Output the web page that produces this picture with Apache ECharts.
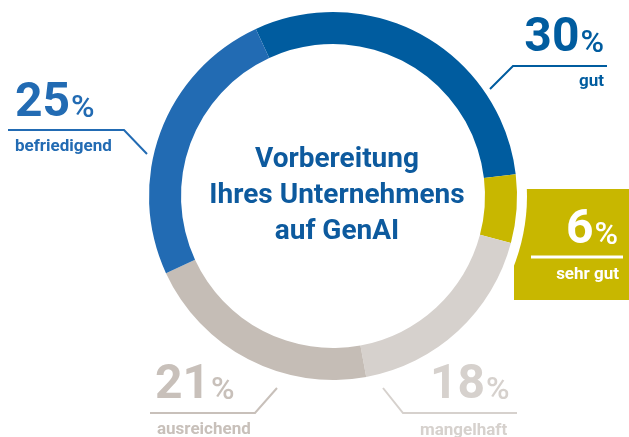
<!DOCTYPE html>
<html>
<head>
<meta charset="utf-8">
<script src="https://cdn.jsdelivr.net/npm/echarts@6/dist/echarts.min.js"></script>
<style>
  html, body { margin: 0; padding: 0; background: #fff; }
  #chart { width: 629px; height: 437px; }
</style>
</head>
<body>
<div id="chart"></div>
<script>
// data
const categories = ['gut', 'sehr gut', 'mangelhaft', 'ausreichend', 'befriedigend'];
const shares = [30, 6, 18, 21, 25];
const sliceColors = ['#005c9f', '#c8b700', '#d6d1cd', '#c5bdb6', '#226bb3'];
const textColors = ['#005c9f', '#ffffff', '#d6d1cd', '#c8c0ba', '#226bb3'];
const titleLines = ['Vorbereitung', 'Ihres Unternehmens', 'auf GenAI'];

const FONT = 'Roboto, "Open Sans", sans-serif';
const cx = 333, cy = 196;

// where each callout sits around the ring
const callouts = [
    { align: 'right', x: 604, base: 55, subX: 604, subBase: 88, line: [[490, 89], [513, 66], [607, 66]] },
    { align: 'right', x: 618, base: 247, subX: 619, subBase: 281, line: [[531, 257], [623, 257]] },
    { align: 'left', x: 430, base: 402, subX: 420, subBase: 437, line: [[383, 388], [403, 413], [517, 413]] },
    { align: 'left', x: 155, base: 402, subX: 157, subBase: 436, line: [[277, 388], [255, 413], [150, 413]] },
    { align: 'left', x: 15, base: 120, subX: 15, subBase: 153, line: [[8, 130], [124, 130], [147, 154]] }
];

const ctx = document.createElement('canvas').getContext('2d');
function textWidth(str, font) {
    ctx.font = font;
    return ctx.measureText(str).width;
}

// text placed by its baseline
function txt(x, base, str, size, weight, color, align) {
    return {
        type: 'text',
        z: 10,
        silent: true,
        style: {
            x: x,
            y: base - 0.34 * size,
            text: str,
            font: weight + ' ' + size + 'px ' + FONT,
            fill: color,
            align: align,
            verticalAlign: 'middle'
        }
    };
}

const graphics = [
    // olive box behind "sehr gut", cut by a white ring
    { type: 'rect', z: 0, silent: true, shape: { x: 514, y: 189, width: 115, height: 111 }, style: { fill: sliceColors[1] } },
    { type: 'circle', z: 1, silent: true, shape: { cx: cx, cy: cy, r: 194 }, style: { fill: '#fff' } },
    {
        type: 'text', z: 10, silent: true,
        style: {
            x: 337, y: 195.5,
            text: titleLines.join('\n'),
            font: 'bold 28px ' + FONT,
            lineHeight: 36,
            fill: '#0d5a9e',
            align: 'center',
            verticalAlign: 'middle'
        }
    }
];

const numSize = 48, pctSize = 32, subSize = 17;
categories.forEach((name, i) => {
    const c = callouts[i];
    const color = textColors[i];
    const numStr = String(shares[i]);
    const numFont = 'bold ' + numSize + 'px ' + FONT;
    const pctFont = '500 ' + pctSize + 'px ' + FONT;
    const numW = textWidth(numStr, numFont);
    const pctW = textWidth('%', pctFont);
    if (c.align === 'right') {
        graphics.push(txt(c.x, c.base, '%', pctSize, 500, color, 'right'));
        graphics.push(txt(c.x - pctW - 1, c.base, numStr, numSize, 'bold', color, 'right'));
    } else {
        graphics.push(txt(c.x, c.base, numStr, numSize, 'bold', color, 'left'));
        graphics.push(txt(c.x + numW + 1, c.base, '%', pctSize, 500, color, 'left'));
    }
    graphics.push(txt(c.subX, c.subBase, name, subSize, 'bold', color, c.align));
    graphics.push({
        type: 'polyline', z: 10, silent: true,
        shape: { points: c.line },
        style: { stroke: color, lineWidth: i === 1 ? 3 : 2, fill: null }
    });
});

const chart = echarts.init(document.getElementById('chart'));
chart.setOption({
    animation: false,
    backgroundColor: '#fff',
    graphic: graphics,
    series: [{
        type: 'pie',
        z: 5,
        center: [cx, cy],
        radius: [152, 184],
        startAngle: 114.8,
        clockwise: true,
        silent: true,
        label: { show: false },
        labelLine: { show: false },
        data: categories.map((name, i) => ({
            name: name,
            value: shares[i],
            itemStyle: { color: sliceColors[i] }
        }))
    }]
});
</script>
</body>
</html>
